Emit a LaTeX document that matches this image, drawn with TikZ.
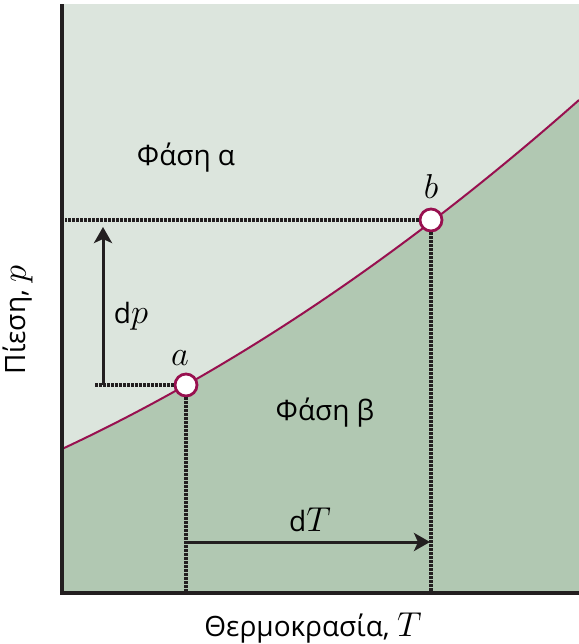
\documentclass[tikz,border=0pt]{standalone}
\usepackage{fontspec}
\setmainfont{Open Sans}
\usetikzlibrary{arrows.meta,positioning}
\definecolor{phasealpha}{HTML}{DCE5DD}
\definecolor{phasebeta}{HTML}{B1C8B2}
\definecolor{boundary}{HTML}{98104F}
\definecolor{axisdark}{HTML}{231F20}
\newcommand{\mvar}[1]{{\fontsize{17.5}{19}\selectfont$#1$}}

\begin{document}
\begin{tikzpicture}[x=0.5pt,y=-0.5pt,
  point/.style={circle,draw=boundary,fill=white,line width=1.4pt,minimum size=11pt,inner sep=0pt},
  guide/.style={axisdark,line width=1.6pt,dash pattern=on 1.1pt off 0.9pt},
  increment/.style={axisdark,line width=1.5pt,-{Stealth[length=8pt,width=9pt,inset=2pt]}},
  lbl/.style={font=\fontsize{14}{16}\selectfont}]
  \useasboundingbox (0,0) rectangle (579,644);

  % Phase regions
  \fill[phasealpha] (62,4) rectangle (579,593);
  \fill[phasebeta] (62,449) .. controls (234.3,368.7) and (406.7,252.4) .. (579,100)
    -- (579,593) -- (62,593) -- cycle;

  % Coexistence curve
  \draw[boundary,line width=1pt] (62,449) .. controls (234.3,368.7) and (406.7,252.4) .. (579,100);

  % Axes
  \draw[axisdark,line width=1.6pt] (62,4) -- (62,593) -- (579,593);

  % Guide lines
  \coordinate (ap) at (95,385);
  \coordinate (bp) at (65,220);
  \coordinate (at) at (186,593);
  \coordinate (bt) at (431,593);

  % Points on the curve
  \node[point] (a) at (186,385) {};
  \node[point] (b) at (431,220) {};
  \draw[guide] (a) -- (ap);
  \draw[guide] (b) -- (bp);
  \draw[guide] (a) -- (at);
  \draw[guide] (b) -- (bt);
  \node[lbl,above=0pt of a,xshift=-3pt] (alab) {\mvar{a}};
  \node[lbl,above=1pt of b] (blab) {\mvar{b}};

  % Increments
  \coordinate (dp0) at (103,385);
  \coordinate (dp1) at (103,227);
  \coordinate (dt0) at (186,542);
  \coordinate (dt1) at (430,542);
  \draw[increment] (dp0) -- (dp1);
  \draw[increment] (dt0) -- (dt1);
  \node[lbl] (dplab) at (131,316) {d\mvar{p}};
  \node[lbl] (dtlab) at (310,520) {d\mvar{T}};

  % Phase labels
  \node[lbl] (alpha) at (186,158) {Φάση α};
  \node[lbl] (beta) at (325,413) {Φάση β};

  % Axis labels
  \node[lbl] (xlab) at (313,628) {Θερμοκρασία, \mvar{T}};
  \node[lbl,rotate=90] (ylab) at (18,320) {Πίεση, \mvar{p}};
\end{tikzpicture}
\end{document}
